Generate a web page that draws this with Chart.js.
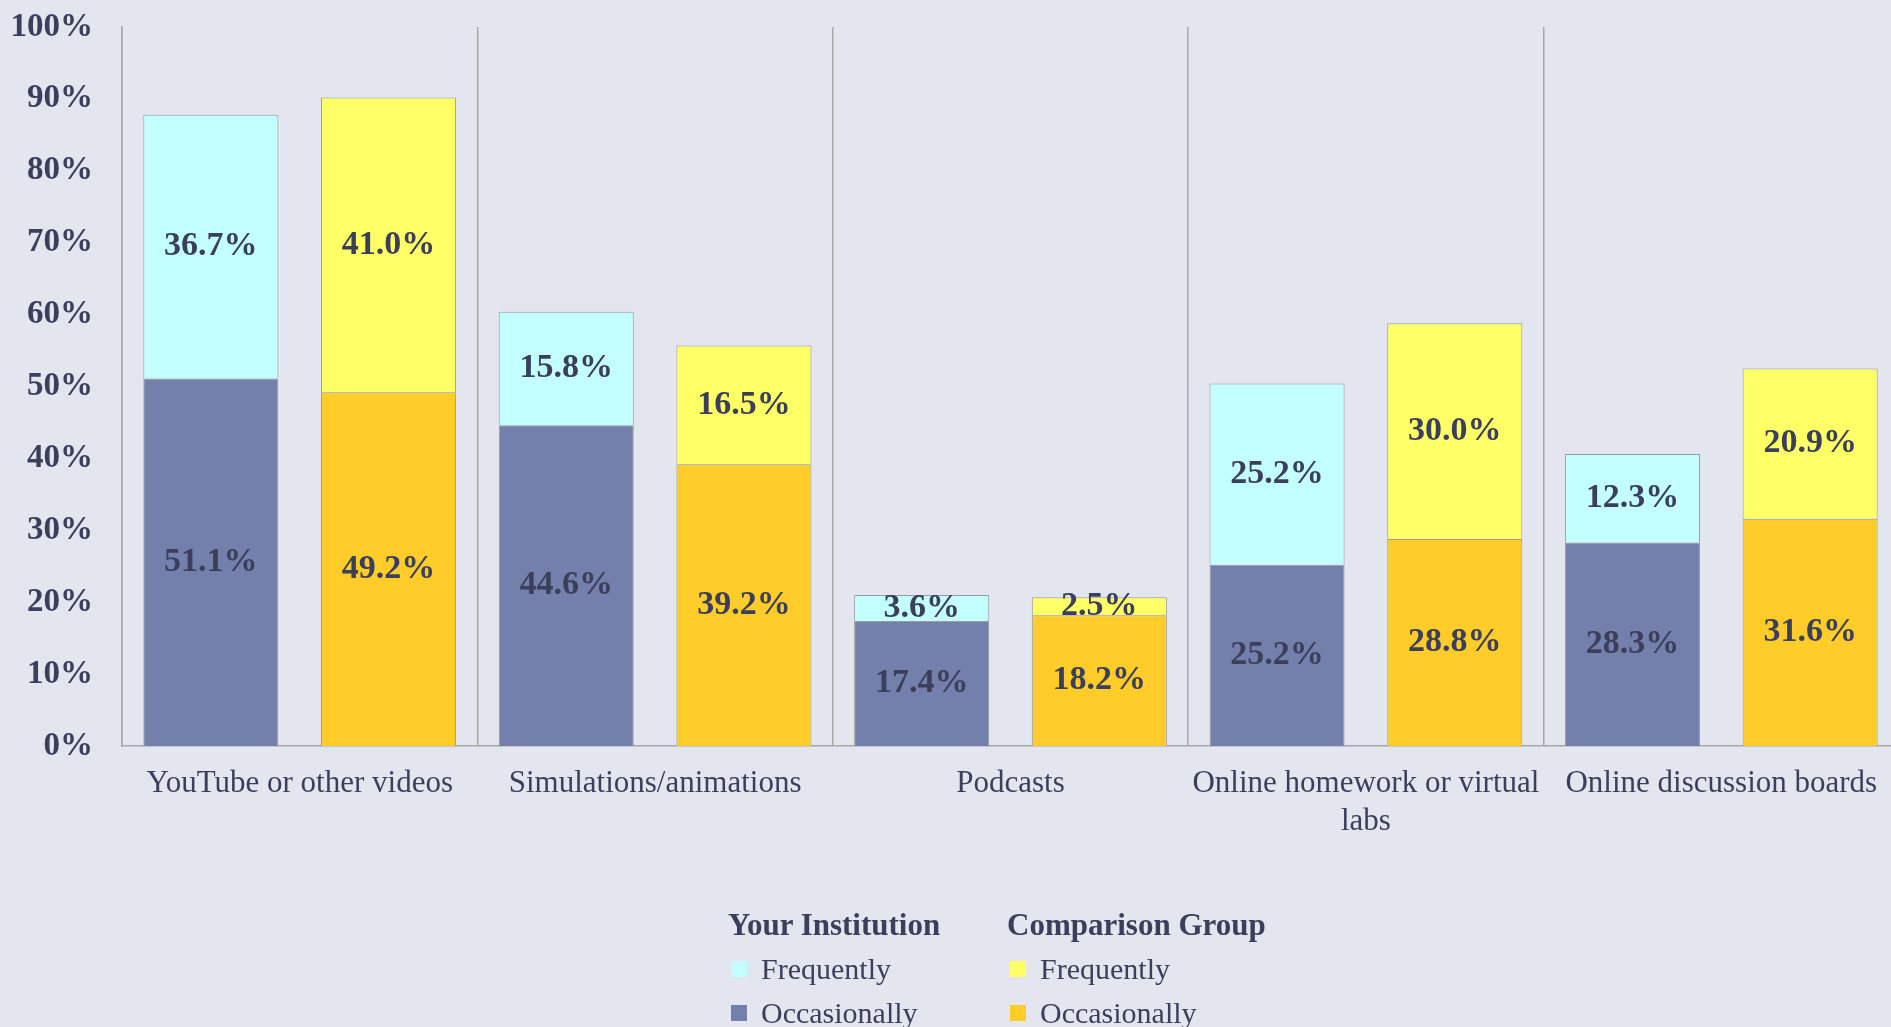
<!DOCTYPE html>
<html>
<head>
<meta charset="utf-8">
<script src="https://cdn.jsdelivr.net/npm/chart.js@4.4.0/dist/chart.umd.min.js"></script>
<style>
  body { margin: 0; background: #e3e6ee; }
  #wrap { position: relative; width: 1891px; height: 1027px; overflow: hidden; }
  #legend { position: absolute; left: 728px; top: 907px; display: flex;
            font-family: "Liberation Serif", serif; color: #3b3f5c; }
  #legend .col { width: 279px; }
  #legend .head { font-weight: bold; font-size: 31px; height: 40px; }
  #legend .item { font-size: 30px; height: 44px; display: flex; align-items: center; }
  #legend .sw { width: 16px; height: 16px; margin-left: 3px; margin-right: 14px; display: inline-block; }
</style>
</head>
<body>
<div id="wrap">
  <!-- plot runs a little past the right edge, as in the original -->
  <canvas id="chart" width="1899" height="1027"></canvas>
  <div id="legend"></div>
</div>
<script>
var categories = ['YouTube or other videos', 'Simulations/animations', 'Podcasts',
                  ['Online homework or virtual', 'labs'], 'Online discussion boards'];
var instOccasionally = [51.1, 44.6, 17.4, 25.2, 28.3];
var instFrequently = [36.7, 15.8, 3.6, 25.2, 12.3];
var compOccasionally = [49.2, 39.2, 18.2, 28.8, 31.6];
var compFrequently = [41.0, 16.5, 2.5, 30.0, 20.9];
var yTicks = [0, 10, 20, 30, 40, 50, 60, 70, 80, 90, 100];

var textColor = '#3b3f5c';
var serif = '"Liberation Serif", "DejaVu Serif", serif';

var groups = [
  { title: 'Your Institution', stack: 'inst', items: [
    { label: 'Frequently', data: instFrequently, color: '#c4ffff' },
    { label: 'Occasionally', data: instOccasionally, color: '#7380ab' }
  ]},
  { title: 'Comparison Group', stack: 'comp', items: [
    { label: 'Frequently', data: compFrequently, color: '#ffff66' },
    { label: 'Occasionally', data: compOccasionally, color: '#ffcc29' }
  ]}
];

// occasionally sits at the bottom of each stack
var datasets = [];
groups.forEach(function(g) {
  [g.items[1], g.items[0]].forEach(function(it) {
    datasets.push({
      label: g.title + ' ' + it.label,
      data: it.data,
      stack: g.stack,
      backgroundColor: it.color,
      borderColor: '#9c9c9c',
      borderWidth: 1,
      categoryPercentage: 1.0,
      barPercentage: 0.76
    });
  });
});

// value labels in the middle of each segment
var barLabels = {
  id: 'barLabels',
  afterDatasetsDraw: function(chart) {
    var ctx = chart.ctx;
    ctx.save();
    ctx.font = 'bold 34px ' + serif;
    ctx.fillStyle = textColor;
    ctx.textAlign = 'center';
    ctx.textBaseline = 'middle';
    chart.data.datasets.forEach(function(ds, i) {
      chart.getDatasetMeta(i).data.forEach(function(bar, j) {
        ctx.fillText(ds.data[j].toFixed(1) + '%', bar.x, (bar.y + bar.base) / 2);
      });
    });
    ctx.restore();
  }
};

new Chart(document.getElementById('chart'), {
  type: 'bar',
  data: { labels: categories, datasets: datasets },
  plugins: [barLabels],
  options: {
    responsive: false,
    animation: false,
    layout: { padding: { top: 27, right: 0, bottom: 0, left: 0 } },
    plugins: { legend: { display: false }, tooltip: { enabled: false } },
    scales: {
      x: {
        stacked: true,
        grid: { display: true, offset: true, color: '#a8a8a8', lineWidth: 1.5, drawTicks: false },
        border: { display: true, color: '#a8a8a8', width: 1.5 },
        ticks: { color: textColor, font: { family: serif, size: 31, lineHeight: 1.25 }, padding: 18, maxRotation: 0 },
        afterFit: function(s) { s.height = 281; s.paddingLeft = 0; s.paddingRight = 0; }
      },
      y: {
        stacked: true,
        min: 0, max: 100,
        afterBuildTicks: function(s) { s.ticks = yTicks.map(function(v) { return { value: v }; }); },
        grid: { display: false },
        border: { display: true, color: '#a8a8a8', width: 1.5 },
        ticks: { color: textColor, font: { family: serif, size: 33, weight: 'bold' }, padding: 21,
                 callback: function(v) { return v + '%'; } },
        afterFit: function(s) { s.width = 122; s.paddingTop = 0; s.paddingBottom = 0; }
      }
    }
  }
});

// legend built from the same groups
var legend = document.getElementById('legend');
groups.forEach(function(g) {
  var col = document.createElement('div');
  col.className = 'col';
  var head = document.createElement('div');
  head.className = 'head';
  head.textContent = g.title;
  col.appendChild(head);
  g.items.forEach(function(it) {
    var row = document.createElement('div');
    row.className = 'item';
    var sw = document.createElement('span');
    sw.className = 'sw';
    sw.style.background = it.color;
    row.appendChild(sw);
    row.appendChild(document.createTextNode(it.label));
    col.appendChild(row);
  });
  legend.appendChild(col);
});
</script>
</body>
</html>
